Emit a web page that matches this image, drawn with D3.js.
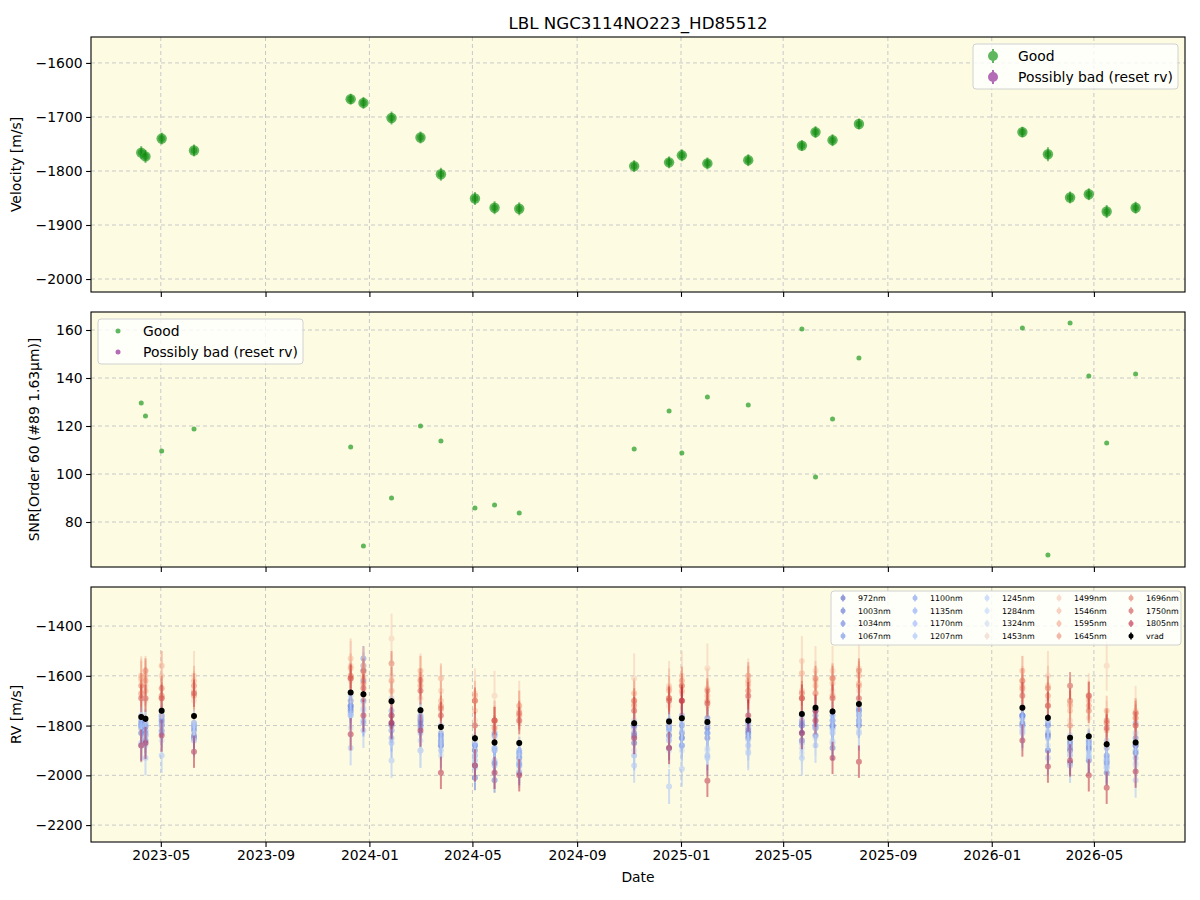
<!DOCTYPE html>
<html lang="en">
<head>
  <meta charset="UTF-8">
  <title>LBL NGC3114NO223_HD85512</title>
  <script src="https://d3js.org/d3.v7.min.js"></script>
  <style>
    body { margin: 0; background: #fff; font-family: "DejaVu Sans", sans-serif; }
    svg { display: block; }
    .tick text { font-family: "DejaVu Sans", sans-serif; font-size: 13.9px; fill: #000; }
    .tick line { stroke: #000; stroke-width: 1.1; }
    .domain { stroke: none; }
    .grid line { stroke: #c8c8c8; stroke-width: 1; stroke-dasharray: 4,3; }
  </style>
</head>
<body>
  <svg width="1200" height="900"></svg>
  <script>
    // observation dates
    const dates = ["2023-04-08","2023-04-13","2023-05-02","2023-06-09","2023-12-10","2023-12-25",
      "2024-01-27","2024-03-01","2024-03-25","2024-05-04","2024-05-27","2024-06-25","2024-11-07",
      "2024-12-18","2025-01-02","2025-02-01","2025-03-21","2025-05-23","2025-06-08","2025-06-28",
      "2025-07-29","2026-02-06","2026-03-08","2026-04-03","2026-04-25","2026-05-16","2026-06-19"];

    // velocity (top panel and vrad in bottom panel)
    const vrad = [-1766,-1773,-1740,-1762,-1667,-1674,-1702,-1738,-1806,-1851,-1868,-1870,-1791,
      -1784,-1771,-1786,-1780,-1753,-1728,-1743,-1713,-1728,-1769,-1849,-1843,-1875,-1868];
    const vradErr = [12,12,11,11,10,11,12,11,12,12,12,12,11,11,11,11,11,10,11,11,10,10,13,11,11,12,11];

    // SNR order 60
    const snr = [129.6,124.2,109.6,118.8,111.3,70,90,120,113.8,85.8,87.1,83.8,110.4,126.3,108.8,
      132.1,128.8,160.4,98.8,122.9,148.3,160.8,66.3,162.9,140.8,112.9,141.7];

    // per-wavelength RVs (bottom panel)
    const waves = [972,1003,1034,1067,1100,1135,1170,1207,1245,1284,1324,1453,1499,1546,1595,1645,1696,1750,1805];
    const waveErr = [45,50,45,50,55,55,60,70,60,60,70,90,100,80,60,55,50,55,65];

    const rv972  = [-1830,-1805,-1800,-1850,-1720,-1700,-1790,-1780,-1880,-1960,-1950,-1930,-1870,-1840,-1850,-1810,-1830,-1830,-1810,-1800,-1780,-1790,-1840,-1900,-1890,-1950,-1910];
    const rv1003 = [-1800,-1860,-1780,-1840,-1740,-1580,-1800,-1800,-1870,-2010,-2020,-1990,-1840,-1890,-1830,-1850,-1850,-1860,-1840,-1890,-1800,-1760,-1900,-1950,-1940,-1990,-1880];
    const rv1034 = [-1790,-1840,-1820,-1800,-1700,-1620,-1760,-1770,-1840,-1900,-1840,-1910,-1830,-1780,-1800,-1770,-1820,-1800,-1760,-1780,-1740,-1760,-1800,-1870,-1860,-1920,-1850];
    const rv1067 = [-1810,-1830,-1760,-1820,-1730,-1530,-1820,-1790,-1860,-1880,-1830,-1950,-1800,-1810,-1880,-1830,-1810,-1790,-1800,-1810,-1760,-1800,-1830,-1890,-1870,-1940,-1880];
    const rv1100 = [-1780,-1790,-1790,-1810,-1720,-1560,-1740,-1760,-1830,-1880,-1900,-1900,-1800,-1800,-1760,-1790,-1790,-1780,-1740,-1760,-1730,-1770,-1790,-1860,-1880,-1890,-1790];
    const rv1135 = [-1800,-1820,-1770,-1790,-1760,-1790,-1850,-1810,-1850,-1920,-1890,-1960,-1810,-1820,-1850,-1830,-1840,-1800,-1780,-1800,-1740,-1760,-1850,-1880,-1900,-1930,-1900];
    const rv1170 = [-1880,-1870,-1830,-1860,-1750,-1780,-1870,-1830,-1880,-1940,-1960,-1920,-1920,-1860,-1880,-1920,-1880,-1870,-1800,-1830,-1790,-1800,-1900,-1920,-1930,-1970,-1930];
    const rv1207 = [-1870,-1930,-1920,-1850,-1890,-1820,-1940,-1900,-1900,-1970,-1940,-1960,-1960,-2045,-1975,-1930,-1910,-1930,-1880,-1870,-1830,-1820,-1930,-1960,-1920,-1960,-2020];
    const rv1245 = [-1760,-1800,-1760,-1790,-1680,-1730,-1690,-1770,-1800,-1870,-1890,-1910,-1780,-1810,-1790,-1790,-1790,-1760,-1740,-1780,-1750,-1830,-1780,-1840,-1870,-1860,-1830];
    const rv1284 = [-1800,-1880,-1800,-1800,-1760,-1740,-1760,-1860,-1870,-1920,-1850,-1940,-1850,-1850,-1820,-1900,-1860,-1890,-1810,-1820,-1780,-1810,-1820,-1910,-1910,-1940,-1950];
    const rv1324 = [-1880,-1840,-1860,-1860,-1810,-1710,-1820,-1900,-1920,-1960,-1990,-1980,-1900,-1900,-1900,-1890,-1900,-1910,-1850,-1860,-1820,-1830,-1880,-1960,-1930,-1970,-1960];
    const rv1453 = [-1680,-1700,-1680,-1700,-1620,-1640,-1600,-1690,-1740,-1780,-1790,-1790,-1710,-1720,-1670,-1720,-1690,-1690,-1670,-1660,-1660,-1660,-1700,-1780,-1770,-1790,-1800];
    const rv1499 = [-1620,-1640,-1600,-1600,-1560,-1590,-1450,-1610,-1660,-1670,-1680,-1720,-1610,-1640,-1600,-1570,-1630,-1540,-1580,-1580,-1570,-1620,-1600,-1710,-1690,-1560,-1740];
    const rv1546 = [-1610,-1600,-1690,-1660,-1530,-1560,-1700,-1600,-1700,-1740,-1780,-1740,-1700,-1650,-1640,-1650,-1640,-1660,-1620,-1630,-1630,-1640,-1640,-1740,-1700,-1820,-1770];
    const rv1595 = [-1600,-1660,-1560,-1620,-1570,-1610,-1660,-1580,-1610,-1680,-1780,-1720,-1670,-1660,-1660,-1680,-1620,-1590,-1640,-1610,-1600,-1580,-1720,-1720,-1680,-1740,-1750];
    const rv1645 = [-1670,-1620,-1680,-1680,-1610,-1630,-1620,-1640,-1720,-1700,-1780,-1760,-1720,-1690,-1620,-1700,-1600,-1690,-1670,-1680,-1640,-1650,-1680,-1800,-1720,-1790,-1770];
    const rv1696 = [-1640,-1580,-1650,-1640,-1600,-1580,-1550,-1620,-1730,-1700,-1810,-1750,-1700,-1690,-1640,-1660,-1660,-1670,-1610,-1610,-1580,-1620,-1650,-1700,-1740,-1780,-1750];
    const rv1750 = [-1690,-1690,-1690,-1670,-1610,-1650,-1760,-1660,-1760,-1800,-1780,-1780,-1740,-1700,-1700,-1710,-1680,-1690,-1780,-1690,-1690,-1680,-1720,-1640,-1680,-1810,-1800];
    const rv1805 = [-1880,-1870,-1840,-1905,-1835,-1760,-1790,-1820,-1990,-1960,-1990,-2000,-1850,-1890,-1700,-2022,-1760,-1830,-1740,-1930,-1945,-1860,-1965,-1940,-2000,-2050,-1985];
    const rvByWave = [rv972,rv1003,rv1034,rv1067,rv1100,rv1135,rv1170,rv1207,rv1245,rv1284,rv1324,
      rv1453,rv1499,rv1546,rv1595,rv1645,rv1696,rv1750,rv1805];

    const velTicks = [-2000,-1900,-1800,-1700,-1600];
    const snrTicks = [80,100,120,140,160];
    const rvTicks = [-2200,-2000,-1800,-1600,-1400];

    const svg = d3.select("svg");
    const parse = d3.utcParse("%Y-%m-%d");
    const t = dates.map(parse);
    const left = 91, right = 1185, ph = 255;
    const tops = [37, 312, 587];

    const x = d3.scaleUtc()
      .domain([parse("2023-02-08"), parse("2026-08-16")])
      .range([left, right]);

    const coolwarm = d3.piecewise(d3.interpolateRgb, ["#3b4cc0","#6282ea","#8db0fe","#b8d0f9",
      "#dddcdc","#f5c4ad","#f49a7b","#de604d","#b40426"]);
    const cw = d3.scaleLinear().domain(d3.extent(waves)).range([0, 1]);
    const waveColor = waves.map(w => coolwarm(cw(w)));
    const green = "#008000";

    svg.append("text").attr("x", (left + right) / 2).attr("y", 29)
      .attr("text-anchor", "middle").attr("font-size", "16.7px").text("LBL NGC3114NO223_HD85512");

    function panel(top, domain, ticks, label, labelX, showDates) {
      const y = d3.scaleLinear().domain(domain).range([top + ph, top]);
      const g = svg.append("g");
      g.append("rect").attr("x", left).attr("y", top).attr("width", right - left).attr("height", ph)
        .attr("fill", "#fdfce3");
      const grid = g.append("g").attr("class", "grid");
      grid.selectAll(".gx").data(x.ticks(d3.utcMonth.every(4))).join("line")
        .attr("x1", d => x(d)).attr("x2", d => x(d)).attr("y1", top).attr("y2", top + ph);
      grid.selectAll(".gy").data(ticks).join("line")
        .attr("x1", left).attr("x2", right).attr("y1", d => y(d)).attr("y2", d => y(d));
      g.append("g").attr("transform", `translate(${left},0)`)
        .call(d3.axisLeft(y).tickValues(ticks).tickFormat(d3.format("d"))
          .tickSize(4.9).tickPadding(3.5).tickSizeOuter(0));
      const xa = d3.axisBottom(x).ticks(d3.utcMonth.every(4)).tickSize(4.9).tickPadding(3.5)
        .tickSizeOuter(0).tickFormat(showDates ? d3.utcFormat("%Y-%m") : "");
      g.append("g").attr("transform", `translate(0,${top + ph})`).call(xa);
      g.append("text").attr("transform", `translate(${labelX},${top + ph / 2}) rotate(-90)`)
        .attr("text-anchor", "middle").attr("font-size", "13.9px").text(label);
      const plot = g.append("g");
      g.append("rect").attr("x", left).attr("y", top).attr("width", right - left).attr("height", ph)
        .attr("fill", "none").attr("stroke", "#000").attr("stroke-width", 1.1);
      return {y, plot, g};
    }

    function legendBox(g, x0, y0, w, h) {
      g.append("rect").attr("x", x0).attr("y", y0).attr("width", w).attr("height", h).attr("rx", 3)
        .attr("fill", "#fff").attr("fill-opacity", 0.8).attr("stroke", "#d0d0d0");
    }

    // top: velocity
    const p1 = panel(tops[0], [-2024, -1552], velTicks, "Velocity [m/s]", 21, false);
    const e1 = p1.plot.selectAll("g").data(vrad).join("g");
    e1.append("circle").attr("cx", (d, i) => x(t[i])).attr("cy", d => p1.y(d)).attr("r", 5.2)
      .attr("fill", "#2ca02c").attr("opacity", 0.75);
    e1.append("line").attr("x1", (d, i) => x(t[i])).attr("x2", (d, i) => x(t[i]))
      .attr("y1", (d, i) => p1.y(d - vradErr[i])).attr("y2", (d, i) => p1.y(d + vradErr[i]))
      .attr("stroke", green).attr("stroke-width", 2).attr("opacity", 0.5);
    e1.append("circle").attr("cx", (d, i) => x(t[i])).attr("cy", d => p1.y(d)).attr("r", 3.3)
      .attr("fill", green).attr("opacity", 0.45);

    legendBox(p1.g, 973, 44, 205, 45);
    [["Good", "#2ca02c"], ["Possibly bad (reset rv)", "#9b3ba0"]].forEach(([name, c], k) => {
      const yy = 56 + k * 21;
      const lg = p1.g.append("g").attr("opacity", 0.75);
      lg.append("line").attr("x1", 993).attr("x2", 993).attr("y1", yy - 7).attr("y2", yy + 7)
        .attr("stroke", c).attr("stroke-width", 2);
      lg.append("circle").attr("cx", 993).attr("cy", yy).attr("r", 5).attr("fill", c);
      p1.g.append("text").attr("x", 1018).attr("y", yy + 5).attr("font-size", "13.9px").text(name);
    });

    // middle: SNR
    const p2 = panel(tops[1], [61.25, 167.5], snrTicks, "SNR[Order 60 (#89 1.63μm)]", 39, false);
    p2.plot.selectAll("circle").data(snr).join("circle")
      .attr("cx", (d, i) => x(t[i])).attr("cy", d => p2.y(d)).attr("r", 2.5)
      .attr("fill", "#2ca02c").attr("opacity", 0.75);
    legendBox(p2.g, 98, 319, 205, 45);
    [["Good", "#2ca02c"], ["Possibly bad (reset rv)", "#9b3ba0"]].forEach(([name, c], k) => {
      const yy = 331 + k * 21;
      p2.g.append("circle").attr("cx", 118).attr("cy", yy).attr("r", 2.5).attr("fill", c)
        .attr("opacity", 0.75);
      p2.g.append("text").attr("x", 143).attr("y", yy + 5).attr("font-size", "13.9px").text(name);
    });

    // bottom: per-wavelength RV
    const p3 = panel(tops[2], [-2268, -1243], rvTicks, "RV [m/s]", 21, true);
    rvByWave.forEach((arr, w) => {
      const gw = p3.plot.append("g").attr("opacity", 0.45);
      gw.selectAll("line").data(arr).join("line")
        .attr("x1", (d, i) => x(t[i])).attr("x2", (d, i) => x(t[i]))
        .attr("y1", d => p3.y(d - waveErr[w])).attr("y2", d => p3.y(d + waveErr[w]))
        .attr("stroke", waveColor[w]).attr("stroke-width", 2);
      gw.selectAll("circle").data(arr).join("circle")
        .attr("cx", (d, i) => x(t[i])).attr("cy", d => p3.y(d)).attr("r", 3)
        .attr("fill", waveColor[w]);
    });
    const gv = p3.plot.append("g");
    gv.selectAll("line").data(vrad).join("line")
      .attr("x1", (d, i) => x(t[i])).attr("x2", (d, i) => x(t[i]))
      .attr("y1", (d, i) => p3.y(d - vradErr[i])).attr("y2", (d, i) => p3.y(d + vradErr[i]))
      .attr("stroke", "#000").attr("stroke-width", 1.5);
    gv.selectAll("circle").data(vrad).join("circle")
      .attr("cx", (d, i) => x(t[i])).attr("cy", d => p3.y(d)).attr("r", 3).attr("fill", "#000");

    legendBox(p3.g, 831, 591, 350, 54);
    const legItems = waves.map((w, i) => [w + "nm", waveColor[i], 0.55]).concat([["vrad", "#000", 1]]);
    legItems.forEach(([name, c, op], k) => {
      const col = Math.floor(k / 4), row = k % 4;
      const mx = 843 + col * 72, my = 598 + row * 12.7;
      const lg = p3.g.append("g").attr("opacity", op);
      lg.append("line").attr("x1", mx).attr("x2", mx).attr("y1", my - 3.5).attr("y2", my + 3.5)
        .attr("stroke", c).attr("stroke-width", 1.5);
      lg.append("circle").attr("cx", mx).attr("cy", my).attr("r", 2.5).attr("fill", c);
      p3.g.append("text").attr("x", mx + 15).attr("y", my + 3).attr("font-size", "7.9px").text(name);
    });

    svg.append("text").attr("x", (left + right) / 2).attr("y", 882)
      .attr("text-anchor", "middle").attr("font-size", "13.9px").text("Date");
  </script>
</body>
</html>
